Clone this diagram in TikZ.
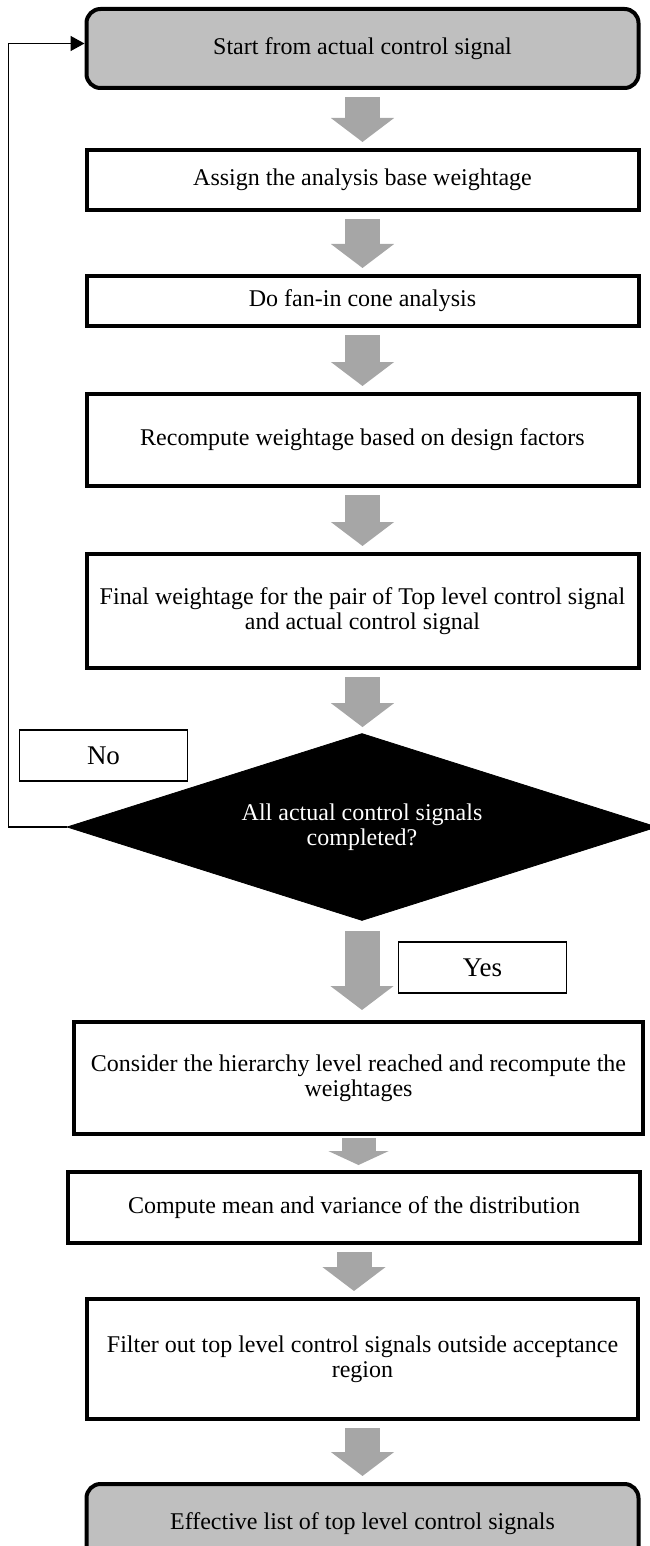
\documentclass[tikz,border=0pt]{standalone}
\usepackage{fontspec}
\setmainfont{Liberation Serif}
\usetikzlibrary{positioning,shapes.geometric,arrows.meta}
\definecolor{boxgray}{HTML}{BFBFBF}
\definecolor{arrowgray}{HTML}{A6A6A6}

\begin{document}
\begin{tikzpicture}[x=0.5pt,y=-0.5pt,
		box/.style={draw, rectangle, line width=2pt, align=center, inner sep=0pt, minimum width=276pt, font=\fontsize{12}{12.5}\selectfont},
		endbox/.style={box, rounded corners=7pt, fill=boxgray},
		decision/.style={draw, diamond, aspect=3.15, fill=black, text=white, align=center, inner sep=0pt, minimum width=295pt, minimum height=93.5pt, font=\fontsize{12}{12.5}\selectfont},
		answer/.style={draw, rectangle, line width=0.7pt, minimum width=84pt, minimum height=25.5pt, font=\fontsize{13.5}{14}\selectfont},
		flow/.style={arrowgray, line width=17.5pt, -{Triangle[width=31pt,length=12pt]}, shorten <=3.5pt, shorten >=3pt},
		shortflow/.style={arrowgray, line width=17pt, -{Triangle[width=30pt,length=7pt]}, shorten <=1pt, shorten >=2.5pt}]
	\useasboundingbox (0,0) rectangle (649,1546);

	\node[endbox, minimum height=39.5pt] (start) at (362.5,48.5) {Start from actual control signal};
	\node[box, minimum height=30pt] (assign) at (362.5,180) {Assign the analysis base weightage};
	\node[box, minimum height=25pt] (fanin) at (362.5,301) {Do fan-in cone analysis};
	\node[box, minimum height=46pt] (recompute) at (362.5,440) {Recompute weightage based on design factors};
	\node[box, minimum height=57pt] (final) at (362.5,611) {Final weightage for the pair of Top level control signal\\and actual control signal};
	\node[decision] (check) at (362,827) {All actual control signals\\completed?};
	\node[answer] (no) at (103.5,755.5) {No};
	\node[answer] (yes) at (482.5,967.5) {Yes};
	\node[box, minimum width=284.5pt, minimum height=56pt] (consider) at (358.5,1078) {Consider the hierarchy level reached and recompute the\\weightages};
	\node[box, minimum width=286pt, minimum height=35.5pt] (compute) at (354,1207.5) {Compute mean and variance of the distribution};
	\node[box, minimum width=275.5pt, minimum height=60pt] (filter) at (362.5,1359) {Filter out top level control signals outside acceptance\\region};
	\node[endbox, minimum height=40pt] (effective) at (362.5,1524) {Effective list of top level control signals};

	% block arrows between the steps
	\foreach \a/\b in {start/assign, assign/fanin, fanin/recompute, recompute/final, final/check, compute/filter, filter/effective}
		\draw[flow] (\a.south) -- (\a.south |- \b.north);
	\draw[flow, shorten <=5pt, shorten >=5pt] (check.south) -- (check.south |- consider.north);
	\draw[shortflow] (consider.south) -- (consider.south |- compute.north);

	% back to the start
	\draw[line width=0.8pt, -{Triangle[length=7pt,width=7.5pt]}] (check.west) -- ++(-58,0) |- ([yshift=2.5pt]start.west);
\end{tikzpicture}
\end{document}
